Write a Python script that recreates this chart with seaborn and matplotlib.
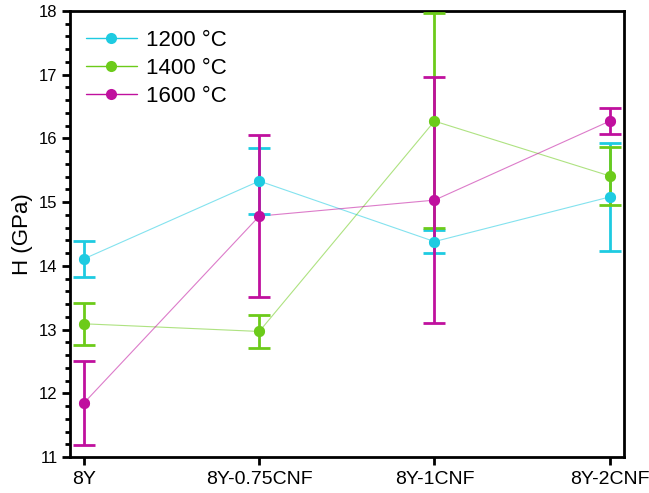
import numpy as np
import pandas as pd
import seaborn as sns
from matplotlib import pyplot as plt
from matplotlib.ticker import MultipleLocator

samples = ['8Y', '8Y-0.75CNF', '8Y-1CNF', '8Y-2CNF']
temps = ['1200 °C', '1400 °C', '1600 °C']

h_1200 = [14.11, 15.33, 14.38, 15.08]
err_lo_1200 = [0.28, 0.52, 0.18, 0.84]
err_hi_1200 = [0.28, 0.52, 0.18, 0.85]

h_1400 = [13.09, 12.97, 16.27, 15.41]
err_lo_1400 = [0.33, 0.26, 1.68, 0.45]
err_hi_1400 = [0.33, 0.26, 1.70, 0.45]

h_1600 = [11.85, 14.78, 15.03, 16.27]
err_lo_1600 = [0.66, 1.27, 1.93, 0.20]
err_hi_1600 = [0.66, 1.27, 1.93, 0.20]

colors = ['#1ECBE1', '#6CCB1A', '#C0109E']

sns.set_style('ticks', {'axes.edgecolor': 'black', 'xtick.color': 'black',
                        'ytick.color': 'black', 'text.color': 'black',
                        'axes.labelcolor': 'black'})
plt.rcParams['font.family'] = ['Liberation Sans', 'DejaVu Sans']

df = pd.DataFrame({
    'sample': samples * 3,
    'pos': list(range(len(samples))) * 3,
    'H': h_1200 + h_1400 + h_1600,
    'temp': sum([[t] * len(samples) for t in temps], []),
})

fig = plt.figure(figsize=(6.49, 4.93), dpi=100)
ax = fig.add_axes([0.108, 0.073, 0.853, 0.905])

sns.lineplot(data=df, x='pos', y='H', hue='temp', palette=colors, marker='o',
             markersize=8, markeredgewidth=0, linewidth=0.8, ax=ax)

errs = [(err_lo_1200, err_hi_1200), (err_lo_1400, err_hi_1400), (err_lo_1600, err_hi_1600)]
vals = [h_1200, h_1400, h_1600]
for v, (lo, hi), c in zip(vals, errs, colors):
    ax.errorbar(range(len(samples)), v, yerr=[lo, hi], fmt='none', ecolor=c,
                elinewidth=2, capsize=8, capthick=2, zorder=3)
    ax.plot(range(len(samples)), v, 'o', color=c, markersize=8, markeredgewidth=0, zorder=4)

# lighten connecting lines
for line in ax.lines[:3]:
    line.set_alpha(0.55)

ax.set_xlim(-0.08, 3.08)
ax.set_ylim(11, 18)
ax.set_xticks(range(len(samples)))
ax.set_xticklabels(samples, fontsize=14)
ax.yaxis.set_major_locator(MultipleLocator(1))
ax.yaxis.set_minor_locator(MultipleLocator(0.2))
ax.tick_params(axis='y', labelsize=12, width=2, length=6, pad=3)
ax.tick_params(axis='y', which='minor', width=2, length=3.5)
ax.tick_params(axis='x', width=2, length=6, pad=4)
ax.set_xlabel('')
ax.set_ylabel('H (GPa)', fontsize=16, labelpad=4)
for s in ax.spines.values():
    s.set_linewidth(2)
    s.set_color('black')

handles, labels = ax.get_legend_handles_labels()
leg = ax.legend(handles[:3], temps, loc='upper left', frameon=False, fontsize=16,
                handlelength=2.3, handletextpad=0.4, labelspacing=0.33,
                borderaxespad=0.4, bbox_to_anchor=(-0.004, 0.998))
for lh in leg.get_lines():
    lh.set_alpha(1)
    lh.set_linewidth(1)

plt.savefig('out.png', dpi=100)
